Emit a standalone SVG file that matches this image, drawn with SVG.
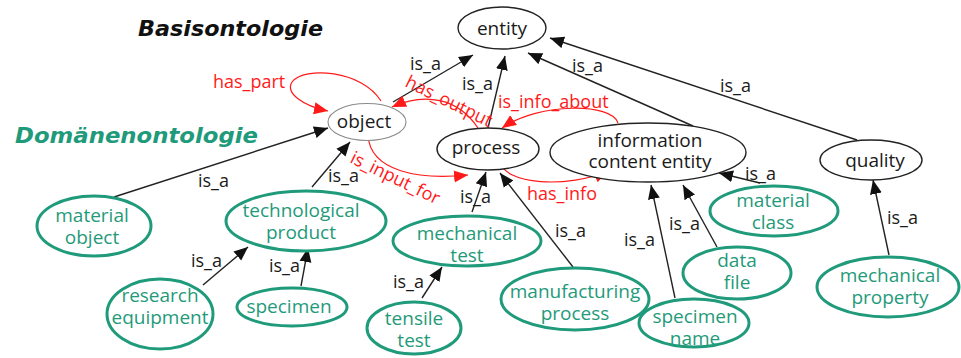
<svg xmlns="http://www.w3.org/2000/svg" width="961" height="358" viewBox="0 0 961 358">
  <defs>
    <marker id="arrowBlack" markerUnits="userSpaceOnUse" markerWidth="15" markerHeight="13" refX="14" refY="6.5" orient="auto">
      <path d="M0,0.5 L14,6.5 L0,12.5 z" fill="#111"/>
    </marker>
    <marker id="arrowRed" markerUnits="userSpaceOnUse" markerWidth="15" markerHeight="13" refX="14" refY="6.5" orient="auto">
      <path d="M0,0.5 L14,6.5 L0,12.5 z" fill="#ff1a1a"/>
    </marker>
  </defs>
  <style>
    .title { font-family: "DejaVu Sans", sans-serif; font-weight: bold; font-style: italic; font-size: 22px; }
    .base { fill: #fff; stroke: #222; stroke-width: 1.4; }
    .thin { fill: #fff; stroke: #8a8a8a; stroke-width: 1.1; }
    .dom { fill: #fff; stroke: #1f9a7a; stroke-width: 3; }
    .lbl { font-family: "Open Sans", sans-serif; font-size: 19px; text-anchor: middle; fill: #1a1a1a; }
    .glbl { font-family: "Open Sans", sans-serif; font-size: 19px; text-anchor: middle; fill: #1f9a7a; }
    .isa { stroke: #222; stroke-width: 1.4; fill: none; marker-end: url(#arrowBlack); }
    .rel { stroke: #ff1a1a; stroke-width: 1.2; fill: none; marker-end: url(#arrowRed); }
    .elbl { font-family: "Open Sans", sans-serif; font-size: 18px; fill: #1a1a1a; }
    .rlbl { font-family: "Open Sans", sans-serif; font-size: 18px; fill: #ff1a1a; }
  </style>

  <rect width="961" height="358" fill="#fff"/>

  <!-- headings -->
  <text class="title" x="138" y="36" fill="#111" textLength="185" lengthAdjust="spacingAndGlyphs">Basisontologie</text>
  <text class="title" x="15" y="143" fill="#1f9a7a" textLength="243" lengthAdjust="spacingAndGlyphs">Domänenontologie</text>

  <!-- connectors -->
  <g id="connectors">
    <!-- is_a edges -->
    <line class="isa" x1="393" y1="102" x2="473" y2="55"/>
    <line class="isa" x1="488" y1="128" x2="505" y2="56"/>
    <line class="isa" x1="693" y1="126" x2="528" y2="53"/>
    <line class="isa" x1="857" y1="140" x2="550" y2="38"/>
    <line class="isa" x1="114" y1="197" x2="328" y2="128"/>
    <line class="isa" x1="312" y1="187" x2="350" y2="142"/>
    <line class="isa" x1="203" y1="285" x2="248" y2="247"/>
    <line class="isa" x1="301" y1="286" x2="308" y2="248"/>
    <line class="isa" x1="472" y1="212" x2="486" y2="172"/>
    <line class="isa" x1="422" y1="298" x2="442" y2="267"/>
    <line class="isa" x1="573" y1="267" x2="500" y2="173"/>
    <line class="isa" x1="675" y1="298" x2="651" y2="185"/>
    <line class="isa" x1="717" y1="247" x2="683" y2="185"/>
    <line class="isa" x1="760" y1="183" x2="719" y2="173"/>
    <line class="isa" x1="889" y1="255" x2="873" y2="180"/>

    <text class="elbl" x="410" y="70">is_a</text>
    <text class="elbl" x="462" y="90">is_a</text>
    <text class="elbl" x="572" y="72">is_a</text>
    <text class="elbl" x="720" y="92">is_a</text>
    <text class="elbl" x="198" y="187">is_a</text>
    <text class="elbl" x="328" y="182">is_a</text>
    <text class="elbl" x="191" y="267">is_a</text>
    <text class="elbl" x="269" y="272">is_a</text>
    <text class="elbl" x="460" y="203">is_a</text>
    <text class="elbl" x="393" y="288">is_a</text>
    <text class="elbl" x="555" y="237">is_a</text>
    <text class="elbl" x="624" y="246">is_a</text>
    <text class="elbl" x="669" y="230">is_a</text>
    <text class="elbl" x="745" y="180">is_a</text>
    <text class="elbl" x="887" y="224">is_a</text>

    <!-- relations -->
    <path class="rel" d="M381,101 C362,70 304,66 292,82 C285,93 303,106 328,111"/>
    <path class="rel" d="M478,128 C458,98 425,92 392,107"/>
    <path class="rel" d="M618,123 C612,103 540,102 502,128"/>
    <path class="rel" d="M368,135 C370,172 420,180 468,175"/>
    <path class="rel" d="M500,160 C502,186 570,188 608,171"/>

    <text class="rlbl" x="213" y="88">has_part</text>
    <text class="rlbl" x="404" y="86" transform="rotate(26 404 86)">has_output</text>
    <text class="rlbl" x="498" y="108">is_info_about</text>
    <text class="rlbl" x="349" y="162" transform="rotate(26 349 162)">is_input_for</text>
    <text class="rlbl" x="527" y="200">has_info</text>
  </g>

  <!-- upper ontology -->
  <g id="entity">
    <ellipse class="base" cx="502" cy="28" rx="44" ry="21"/>
    <text class="lbl" x="502" y="35">entity</text>
  </g>
  <g id="object">
    <ellipse class="thin" cx="367" cy="122" rx="39" ry="18.5"/>
    <text class="lbl" x="364" y="128">object</text>
  </g>
  <g id="process">
    <ellipse class="base" cx="488" cy="149" rx="51" ry="21"/>
    <text class="lbl" x="486" y="154">process</text>
  </g>
  <g id="information-content-entity">
    <ellipse class="base" cx="648" cy="152.5" rx="98" ry="29.5"/>
    <text class="lbl" x="650" y="147">information<tspan x="650" dy="21">content entity</tspan></text>
  </g>
  <g id="quality">
    <ellipse class="base" cx="871" cy="160" rx="51" ry="20"/>
    <text class="lbl" x="875" y="167">quality</text>
  </g>

  <!-- domain ontology -->
  <g id="material-object">
    <ellipse class="dom" cx="94" cy="226" rx="57" ry="30"/>
    <text class="glbl" x="92" y="222">material<tspan x="92" dy="22">object</tspan></text>
  </g>
  <g id="technological-product">
    <ellipse class="dom" cx="306" cy="221" rx="80" ry="30"/>
    <text class="glbl" x="301" y="217">technological<tspan x="301" dy="22">product</tspan></text>
  </g>
  <g id="research-equipment">
    <ellipse class="dom" cx="160" cy="314" rx="53" ry="35"/>
    <text class="glbl" x="160" y="302">research<tspan x="160" dy="22">equipment</tspan></text>
  </g>
  <g id="specimen">
    <ellipse class="dom" cx="292" cy="307" rx="55" ry="19"/>
    <text class="glbl" x="289" y="313">specimen</text>
  </g>
  <g id="mechanical-test">
    <ellipse class="dom" cx="467" cy="241" rx="74" ry="25"/>
    <text class="glbl" x="467" y="240">mechanical<tspan x="467" dy="22">test</tspan></text>
  </g>
  <g id="tensile-test">
    <ellipse class="dom" cx="414" cy="328" rx="47" ry="26"/>
    <text class="glbl" x="414" y="325">tensile<tspan x="414" dy="22">test</tspan></text>
  </g>
  <g id="manufacturing-process">
    <ellipse class="dom" cx="575" cy="299" rx="74" ry="31"/>
    <text class="glbl" x="575" y="298">manufacturing<tspan x="575" dy="22">process</tspan></text>
  </g>
  <g id="specimen-name">
    <ellipse class="dom" cx="694" cy="323" rx="55" ry="24"/>
    <text class="glbl" x="695" y="323">specimen<tspan x="695" dy="22">name</tspan></text>
  </g>
  <g id="data-file">
    <ellipse class="dom" cx="737" cy="273" rx="54" ry="26"/>
    <text class="glbl" x="737" y="267">data<tspan x="737" dy="22">file</tspan></text>
  </g>
  <g id="material-class">
    <ellipse class="dom" cx="774" cy="211" rx="64" ry="25"/>
    <text class="glbl" x="773" y="207">material<tspan x="773" dy="22">class</tspan></text>
  </g>
  <g id="mechanical-property">
    <ellipse class="dom" cx="888" cy="287" rx="71" ry="30"/>
    <text class="glbl" x="890" y="282">mechanical<tspan x="890" dy="22">property</tspan></text>
  </g>
</svg>
